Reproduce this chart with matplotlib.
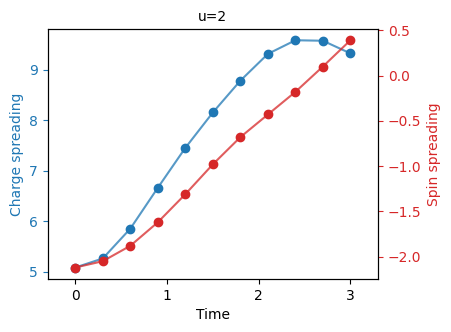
import numpy as np
import matplotlib
matplotlib.use("Agg")
import matplotlib.pyplot as plt

# spreading vs time for u=2
time = [0.0, 0.3, 0.6, 0.9, 1.2, 1.5, 1.8, 2.1, 2.4, 2.7, 3.0]
charge = [5.08, 5.26, 5.85, 6.66, 7.45, 8.15, 8.78, 9.31, 9.58, 9.57, 9.32]
spin = [-2.12, -2.05, -1.88, -1.62, -1.31, -0.98, -0.68, -0.43, -0.18, 0.10, 0.39]
xticks = [0, 1, 2, 3]

fig = plt.figure(figsize=(4.51, 3.32), dpi=100)
ax1 = fig.add_axes([0.106, 0.16, 0.732, 0.753])
ax2 = ax1.twinx()

c1 = 'tab:blue'
c2 = 'tab:red'

ax1.plot(time, charge, color=c1, alpha=0.75)
ax1.plot(time, charge, 'o', color=c1)
ax1.set_xlabel('Time')
ax1.set_ylabel('Charge spreading', color=c1)
ax1.tick_params(axis='y', labelcolor=c1, color=c1)
ax1.set_xticks(xticks)
ax1.set_xlim(-0.3, 3.3)

ax2.plot(time, spin, color=c2, alpha=0.75)
ax2.plot(time, spin, 'o', color=c2)
ax2.set_ylabel('Spin spreading', color=c2)
ax2.tick_params(axis='y', labelcolor=c2, color=c2)

ax1.set_title('u=2', fontsize=10)

fig.savefig('out.png', dpi=100)
